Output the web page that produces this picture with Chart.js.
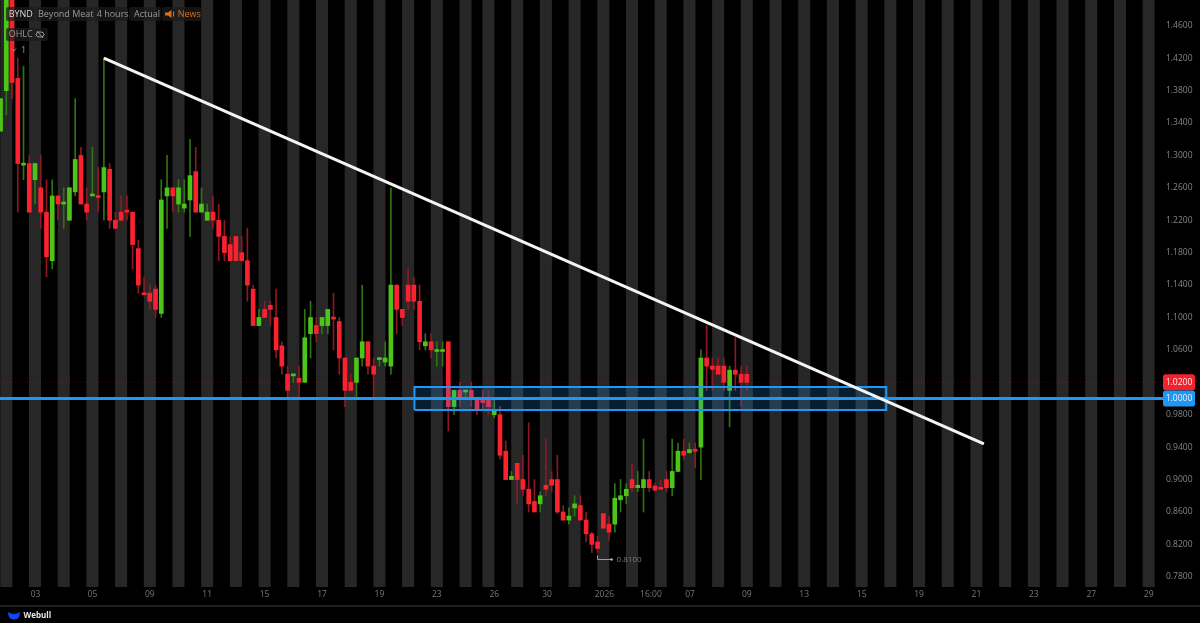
<!DOCTYPE html>
<html><head><meta charset="utf-8">
<style>html,body{margin:0;padding:0;background:#000;overflow:hidden}canvas{display:block}</style>
<script src="https://cdn.jsdelivr.net/npm/chart.js@4"></script>
</head><body><canvas id="c" width="1200" height="623"></canvas>
<script>
const firstBar = -1;
const opens = [1.33,1.38,1.54,1.395,1.288,1.29,1.27,1.26,1.23,1.17,1.25,1.24,1.22,1.255,1.30,1.24,1.25,1.25,1.255,1.283,1.22,1.23,1.231,1.23,1.185,1.13,1.13,1.135,1.105,1.25,1.26,1.24,1.235,1.245,1.28,1.23,1.22,1.23,1.22,1.20,1.19,1.20,1.18,1.17,1.135,1.09,1.11,1.115,1.10,1.065,1.03,1.028,1.025,1.02,1.08,1.09,1.09,1.09,1.10,1.095,1.05,1.02,1.02,1.05,1.07,1.04,1.048,1.045,1.04,1.14,1.11,1.14,1.14,1.12,1.065,1.07,1.058,1.058,1.07,0.99,1.01,1.008,1.01,1.00,0.999,1.00,0.98,0.98,0.935,0.90,0.92,0.90,0.888,0.873,0.87,0.893,0.90,0.90,0.86,0.85,0.865,0.868,0.85,0.833,0.823,0.858,0.845,0.845,0.875,0.88,0.90,0.89,0.89,0.90,0.892,0.89,0.90,0.89,0.91,0.935,0.933,0.937,0.94,1.05,1.04,1.04,1.04,1.01,1.035,1.03,1.03];
const highs = [1.37,1.56,1.56,1.42,1.41,1.30,1.29,1.30,1.27,1.27,1.25,1.26,1.26,1.37,1.31,1.26,1.31,1.285,1.42,1.29,1.23,1.25,1.25,1.23,1.195,1.15,1.14,1.14,1.27,1.30,1.26,1.27,1.27,1.32,1.31,1.26,1.24,1.25,1.24,1.22,1.20,1.20,1.20,1.21,1.14,1.11,1.12,1.12,1.135,1.07,1.04,1.03,1.04,1.11,1.12,1.10,1.10,1.11,1.13,1.10,1.05,1.03,1.05,1.14,1.07,1.05,1.05,1.07,1.26,1.14,1.11,1.16,1.15,1.14,1.08,1.08,1.07,1.07,1.07,1.01,1.02,1.01,1.02,1.00,1.01,1.01,1.00,0.99,0.9475,0.91,0.92,0.93,0.97,0.90,0.885,0.95,0.91,0.93,0.868,0.865,0.88,0.88,0.86,0.835,0.83,0.858,0.855,0.895,0.90,0.895,0.92,0.91,0.95,0.91,0.895,0.90,0.91,0.95,0.945,0.95,0.945,0.945,1.06,1.09,1.05,1.05,1.05,1.04,1.075,1.04,1.04];
const lows = [1.33,1.35,1.37,1.23,1.27,1.23,1.24,1.21,1.15,1.16,1.22,1.21,1.22,1.25,1.24,1.22,1.25,1.23,1.22,1.21,1.21,1.22,1.22,1.16,1.13,1.128,1.11,1.10,1.10,1.21,1.23,1.23,1.23,1.20,1.23,1.23,1.22,1.21,1.17,1.17,1.17,1.17,1.17,1.12,1.09,1.09,1.10,1.09,1.05,1.03,1.00,1.02,1.00,1.02,1.05,1.07,1.08,1.08,1.06,1.03,0.99,1.01,1.00,1.04,1.03,1.00,1.04,1.04,1.03,1.08,1.09,1.11,1.11,1.06,1.06,1.05,1.04,1.04,0.96,0.98,0.99,1.00,0.99,0.98,0.987,0.98,0.976,0.925,0.90,0.90,0.87,0.88,0.86,0.86,0.86,0.88,0.885,0.858,0.85,0.845,0.855,0.85,0.823,0.81,0.81,0.84,0.825,0.835,0.86,0.87,0.885,0.885,0.86,0.885,0.885,0.888,0.885,0.88,0.91,0.925,0.933,0.915,0.90,1.01,1.01,1.03,1.01,0.965,1.01,0.99,1.01];
const closes = [1.37,1.54,1.39,1.29,1.29,1.23,1.29,1.23,1.175,1.25,1.24,1.241,1.26,1.295,1.24,1.23,1.252,1.248,1.285,1.22,1.21,1.22,1.23,1.19,1.14,1.128,1.12,1.11,1.245,1.26,1.25,1.26,1.24,1.275,1.23,1.24,1.23,1.22,1.20,1.18,1.17,1.17,1.17,1.14,1.09,1.10,1.10,1.11,1.06,1.04,1.01,1.03,1.02,1.075,1.10,1.08,1.10,1.11,1.098,1.05,1.01,1.01,1.05,1.07,1.04,1.03,1.05,1.05,1.14,1.11,1.10,1.12,1.12,1.07,1.07,1.06,1.06,1.06,0.99,1.01,1.00,1.01,1.00,0.987,0.995,0.99,0.985,0.93,0.90,0.904,0.90,0.888,0.87,0.86,0.88,0.888,0.893,0.86,0.85,0.855,0.87,0.85,0.833,0.82,0.815,0.84,0.835,0.877,0.88,0.888,0.89,0.893,0.90,0.89,0.887,0.888,0.89,0.91,0.935,0.93,0.937,0.935,1.05,1.04,1.036,1.03,1.02,1.035,1.03,1.02,1.02];
const stripeBars = [0,5,10,15,20,25,30,35,40,45,50,55,60,65,70,75,80,84,89,94,99,104,109,114,119,124,129,134,139,144,149,154,159,164,169,174,179,184,189,194,199];
const yTickValues = [1.46,1.42,1.38,1.34,1.30,1.26,1.22,1.18,1.14,1.10,1.06,0.98,0.94,0.90,0.86,0.82,0.78];
const xTickValues = [5.1,15,25,35,45,55,65,75,85,94.2,104.2,112.3,119.1,129,139,149,159,169,179,189,199];
const xTickLabels = ['03','05','09','11','15','17','19','23','26','30','2026','16:00','07','09','13','15','19','21','23','27','29'];
const trendX = [17,170.3], trendY = [1.42,0.944];
const zoneX = [71.1,153.3], zoneY = [0.9858,1.0142];
const supportPrice = 1.0, lastPrice = 1.02, lowPrice = 0.81, lowBar = 103;
const X_MIN=-1.0976, X_MAX=201.5, Y_MIN=0.7674, Y_MAX=1.4918;
const RED='#fb2230', GREEN='#4dc518', RED_W='#8d1a22', GREEN_W='#2f7412', BLUE='#2196f3';
const FONT='"Open Sans"';

const bars = opens.map((o,i)=>({x:i+firstBar,o,h:highs[i],l:lows[i],c:closes[i],up:closes[i]>=o}));

function box(ctx,x,y,w,h,r,fill){ctx.fillStyle=fill;ctx.beginPath();ctx.roundRect(x,y,w,h,r);ctx.fill();}
const zoneShade={id:'zoneShade',beforeDatasetDraw(chart,args){
 if(chart.data.datasets[args.index].label!=='Zone')return;
 const xs=chart.scales.x,ys=chart.scales.y,ctx=chart.ctx;
 const x0=xs.getPixelForValue(zoneX[0]),x1=xs.getPixelForValue(zoneX[1]);
 const y1=ys.getPixelForValue(zoneY[0]),y0=ys.getPixelForValue(zoneY[1]);
 ctx.save();ctx.fillStyle='rgba(33,150,243,0.2)';ctx.fillRect(x0,y0,x1-x0,y1-y0);ctx.restore();
}};
const overlay={id:'overlay',afterDraw(chart){
 const ctx=chart.ctx,ys=chart.scales.y,xs=chart.scales.x;
 ctx.save();
 ctx.textBaseline='middle';ctx.textAlign='left';
 const hdr=[[6,29,'BYND',8.7,'#d8d8d8'],[36,57,'Beyond Meat',38,'#9a9a9a'],[94,34,'4 hours',96.7,'#9a9a9a'],[129,32,'Actual',134,'#9a9a9a'],[162,40,'News',177.7,'#d8701c']];
 ctx.font='9px '+FONT;
 hdr.forEach(h=>{box(ctx,h[0],7,h[1],14,2,'rgba(28,28,28,0.72)');ctx.fillStyle=h[4];ctx.fillText(h[2],h[3],14.5);});
 ctx.fillStyle='#d8701c';ctx.beginPath();ctx.moveTo(165,12.5);ctx.lineTo(168,12.5);ctx.lineTo(171.5,10);ctx.lineTo(171.5,18);ctx.lineTo(168,15.5);ctx.lineTo(165,15.5);ctx.fill();
 ctx.fillRect(173,11.5,1,5);
 box(ctx,6,28,42,13,2,'rgba(28,28,28,0.72)');
 ctx.fillStyle='#9a9a9a';ctx.fillText('OHLC',8.7,34.5);
 ctx.strokeStyle='#9a9a9a';ctx.lineWidth=1;ctx.beginPath();ctx.ellipse(40,34.5,4,2.6,0,0,Math.PI*2);ctx.stroke();
 ctx.beginPath();ctx.moveTo(37,31);ctx.lineTo(43,38);ctx.stroke();
 ctx.beginPath();ctx.moveTo(12,48.5);ctx.lineTo(14,51);ctx.lineTo(16,48.5);ctx.strokeStyle='#888';ctx.stroke();
 ctx.fillStyle='#9a9a9a';ctx.fillText('1',21,50);
 const lx=xs.getPixelForValue(lowBar),ly=ys.getPixelForValue(lowPrice)+7;
 ctx.strokeStyle='#a0a0a0';ctx.lineWidth=1;ctx.beginPath();ctx.moveTo(lx,ly-4);ctx.lineTo(lx,ly);ctx.lineTo(lx+14,ly);ctx.stroke();
 ctx.fillStyle='#c0c0c0';ctx.beginPath();ctx.arc(lx+14,ly,1.2,0,7);ctx.fill();
 ctx.fillStyle='#7d7d7d';ctx.font='8px '+FONT;ctx.fillText(lowPrice.toFixed(4),lx+19,ly);
 [[lastPrice,'#f5222d'],[supportPrice,BLUE]].forEach(b=>{
  const y=ys.getPixelForValue(b[0]);
  box(ctx,1163,y-8,32,16,2.5,b[1]);
  ctx.fillStyle='#f2f2f2';ctx.font='8.5px '+FONT;ctx.textAlign='center';ctx.fillText(b[0].toFixed(4),1179,y+0.5);
 });
 ctx.textAlign='left';
 ctx.fillStyle='#1e1e1e';ctx.fillRect(0,605,1200,2);
 ctx.fillStyle='#1446f5';ctx.beginPath();ctx.moveTo(8,612);ctx.quadraticCurveTo(14,616,20,612);ctx.quadraticCurveTo(20,619.5,14,619.5);ctx.quadraticCurveTo(8,619.5,8,612);ctx.fill();
 ctx.fillStyle='#e8e8e8';ctx.font='bold 8px '+FONT;ctx.fillText('Webull',23.5,615.5);
 ctx.restore();
}};

new Chart(document.getElementById('c'),{
 type:'bar',
 plugins:[zoneShade,overlay],
 data:{datasets:[
  {label:'Session',order:10,grouped:false,barThickness:11.4,backgroundColor:'#272727',borderWidth:0,
   data:stripeBars.map(x=>({x,y:[Y_MIN,Y_MAX]}))},
  {label:'Wicks',order:8,grouped:false,barThickness:1,borderWidth:0,
   backgroundColor:bars.map(b=>b.up?GREEN_W:RED_W),
   data:bars.map(b=>({x:b.x,y:[b.l,b.h]}))},
  {label:'BYND',order:7,grouped:false,barThickness:4,borderWidth:0,minBarLength:2,
   backgroundColor:bars.map(b=>b.up?GREEN:RED),
   data:bars.map(b=>({x:b.x,y:[b.o,b.c]}))},
  {type:'line',label:'Last',order:6,borderColor:'rgba(255,50,60,0.22)',borderWidth:1,borderDash:[1,2],pointRadius:0,
   data:[{x:X_MIN,y:lastPrice},{x:X_MAX,y:lastPrice}]},
  {type:'line',label:'Zone',order:5,borderColor:BLUE,borderWidth:2,pointRadius:0,tension:0,fill:false,
   data:[{x:zoneX[0],y:zoneY[0]},{x:zoneX[1],y:zoneY[0]},{x:zoneX[1],y:zoneY[1]},{x:zoneX[0],y:zoneY[1]},{x:zoneX[0],y:zoneY[0]}]},
  {type:'line',label:'Support',order:4,borderColor:BLUE,borderWidth:3,pointRadius:0,
   data:[{x:X_MIN,y:supportPrice},{x:X_MAX,y:supportPrice}]},
  {type:'line',label:'Trend',order:3,borderColor:'#f4f4f4',borderWidth:3,pointRadius:0,
   data:[{x:trendX[0],y:trendY[0]},{x:trendX[1],y:trendY[1]}]}
 ]},
 options:{
  responsive:false,animation:false,devicePixelRatio:1,
  layout:{padding:0,autoPadding:false},
  plugins:{legend:{display:false},title:{display:false},tooltip:{enabled:false}},
  scales:{
   x:{type:'linear',position:'bottom',min:X_MIN,max:X_MAX,offset:false,
    grid:{display:false,drawTicks:false},border:{display:false},
    afterFit(s){s.height=36;s.paddingLeft=0;s.paddingRight=0;s.paddingTop=0;s.paddingBottom=0;},
    afterBuildTicks(s){s.ticks=xTickValues.map(value=>({value}));},
    ticks:{autoSkip:false,maxRotation:0,minRotation:0,padding:2,color:'#777',font:{family:FONT,size:8.5},
     callback(v){const k=xTickValues.indexOf(v);return k<0?'':xTickLabels[k];}}},
   y:{type:'linear',position:'right',min:Y_MIN,max:Y_MAX,
    grid:{display:false,drawTicks:false},border:{display:false},
    afterFit(s){s.width=37;s.paddingLeft=0;s.paddingRight=0;s.paddingTop=0;s.paddingBottom=0;},
    afterBuildTicks(s){s.ticks=yTickValues.map(value=>({value}));},
    ticks:{padding:3,color:'#858585',font:{family:FONT,size:8.5},callback:v=>v.toFixed(4)}}
  }
 }
});
</script></body></html>
